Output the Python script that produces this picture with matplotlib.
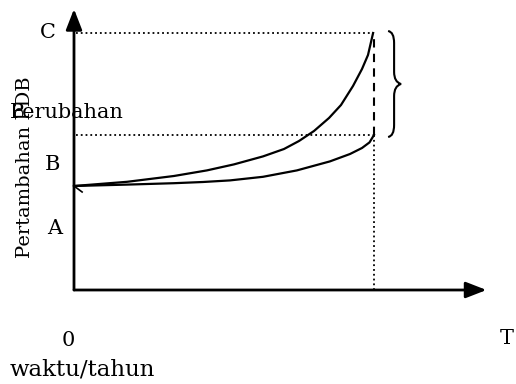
import numpy as np
import matplotlib
matplotlib.use("Agg")
import matplotlib.pyplot as plt
from matplotlib.path import Path
from matplotlib.patches import PathPatch

# Diagram values (time units along x, PDB units along y)
t_upper = [0.0, 1.77, 3.33, 4.43, 5.33, 6.3, 7.0, 7.5, 8.0, 8.5, 8.9, 9.3, 9.6, 9.8, 9.97]
y_upper = [5.2, 5.41, 5.7, 5.98, 6.28, 6.68, 7.05, 7.45, 7.95, 8.6, 9.25, 10.2, 11.05, 11.75, 12.85]
t_lower = [0.0, 1.77, 3.33, 4.3, 5.2, 6.3, 7.43, 8.53, 9.2, 9.6, 9.85, 10.0]
y_lower = [5.2, 5.27, 5.34, 5.4, 5.48, 5.66, 5.98, 6.43, 6.8, 7.1, 7.38, 7.75]

t_end = 10.0
level_c = 12.85
level_mid = 7.75

W, H = 516, 384
fig = plt.figure(figsize=(W / 100, H / 100), dpi=100)
ax = fig.add_axes([74 / W, 94 / H, (W - 74) / W, (H - 94) / H])
ax.set_xlim(0, (W - 74) / 30)
ax.set_ylim(0, (H - 94) / 20)
ax.axis("off")

k = dict(color="black", clip_on=False)

# axes with arrows
arrow = dict(arrowstyle="-|>,head_length=0.9,head_width=0.35", lw=2, color="black",
             shrinkA=0, shrinkB=0, mutation_scale=14)
ax.annotate("", xy=(13.75, 0), xytext=(0, 0), arrowprops=arrow)
ax.annotate("", xy=(0, 14.05), xytext=(0, 0), arrowprops=arrow)

# guide lines
ax.plot([0.05, t_end], [level_c, level_c], ls=":", lw=1.3, **k)
ax.plot([0.05, t_end], [level_mid, level_mid], ls=":", lw=1.3, **k)
ax.plot([t_end, t_end], [0, level_mid], ls=":", lw=1.3, **k)
ax.plot([t_end, t_end], [level_mid, level_c], ls=(0, (4, 3)), lw=1.5, **k)

# curves
ax.plot(t_upper, y_upper, lw=1.6, solid_joinstyle="round", **k)
ax.plot(t_lower, y_lower, lw=1.6, solid_joinstyle="round", **k)
ax.plot([0, 0.27], [y_upper[0], y_upper[0] - 0.3], lw=1.2, **k)

# brace
x0, x1, x2 = 10.47, 10.67, 10.9
ym = (level_c + level_mid) / 2
verts = [(x0, level_c + 0.1), (x1, level_c + 0.05), (x1, level_c - 0.5),
         (x1, ym + 0.6), (x1, ym + 0.1), (x2, ym),
         (x1, ym - 0.1), (x1, ym - 0.6),
         (x1, level_mid + 0.5), (x1, level_mid - 0.05), (x0, level_mid - 0.1)]
codes = [Path.MOVETO, Path.CURVE3, Path.CURVE3, Path.LINETO, Path.CURVE3, Path.CURVE3,
         Path.CURVE3, Path.CURVE3, Path.LINETO, Path.CURVE3, Path.CURVE3]
ax.add_patch(PathPatch(Path(verts, codes), fill=False, lw=1.5, color="black", clip_on=False))

# labels
f = dict(family="DejaVu Serif", color="black", clip_on=False)
ax.text(-0.87, level_c, "C", ha="center", va="center", fontsize=15, **f)
ax.text(-0.7, 6.25, "B", ha="center", va="center", fontsize=15, **f)
ax.text(-0.63, 3.1, "A", ha="center", va="center", fontsize=15, **f)
ax.text(-1.63, 6.15, "Pertambahan PDB", rotation=90, ha="center", va="center", fontsize=14, **f)
ax.text(-2.13, 8.85, "Perubahan", ha="left", va="center", fontsize=15, **f)
ax.text(-0.2, -2.5, "0", ha="center", va="center", fontsize=15, **f)
ax.text(14.43, -2.4, "T", ha="center", va="center", fontsize=15, **f)
ax.text(-2.13, -4.0, "waktu/tahun", ha="left", va="center", fontsize=16.5, **f)

fig.savefig("out.png", dpi=100)
